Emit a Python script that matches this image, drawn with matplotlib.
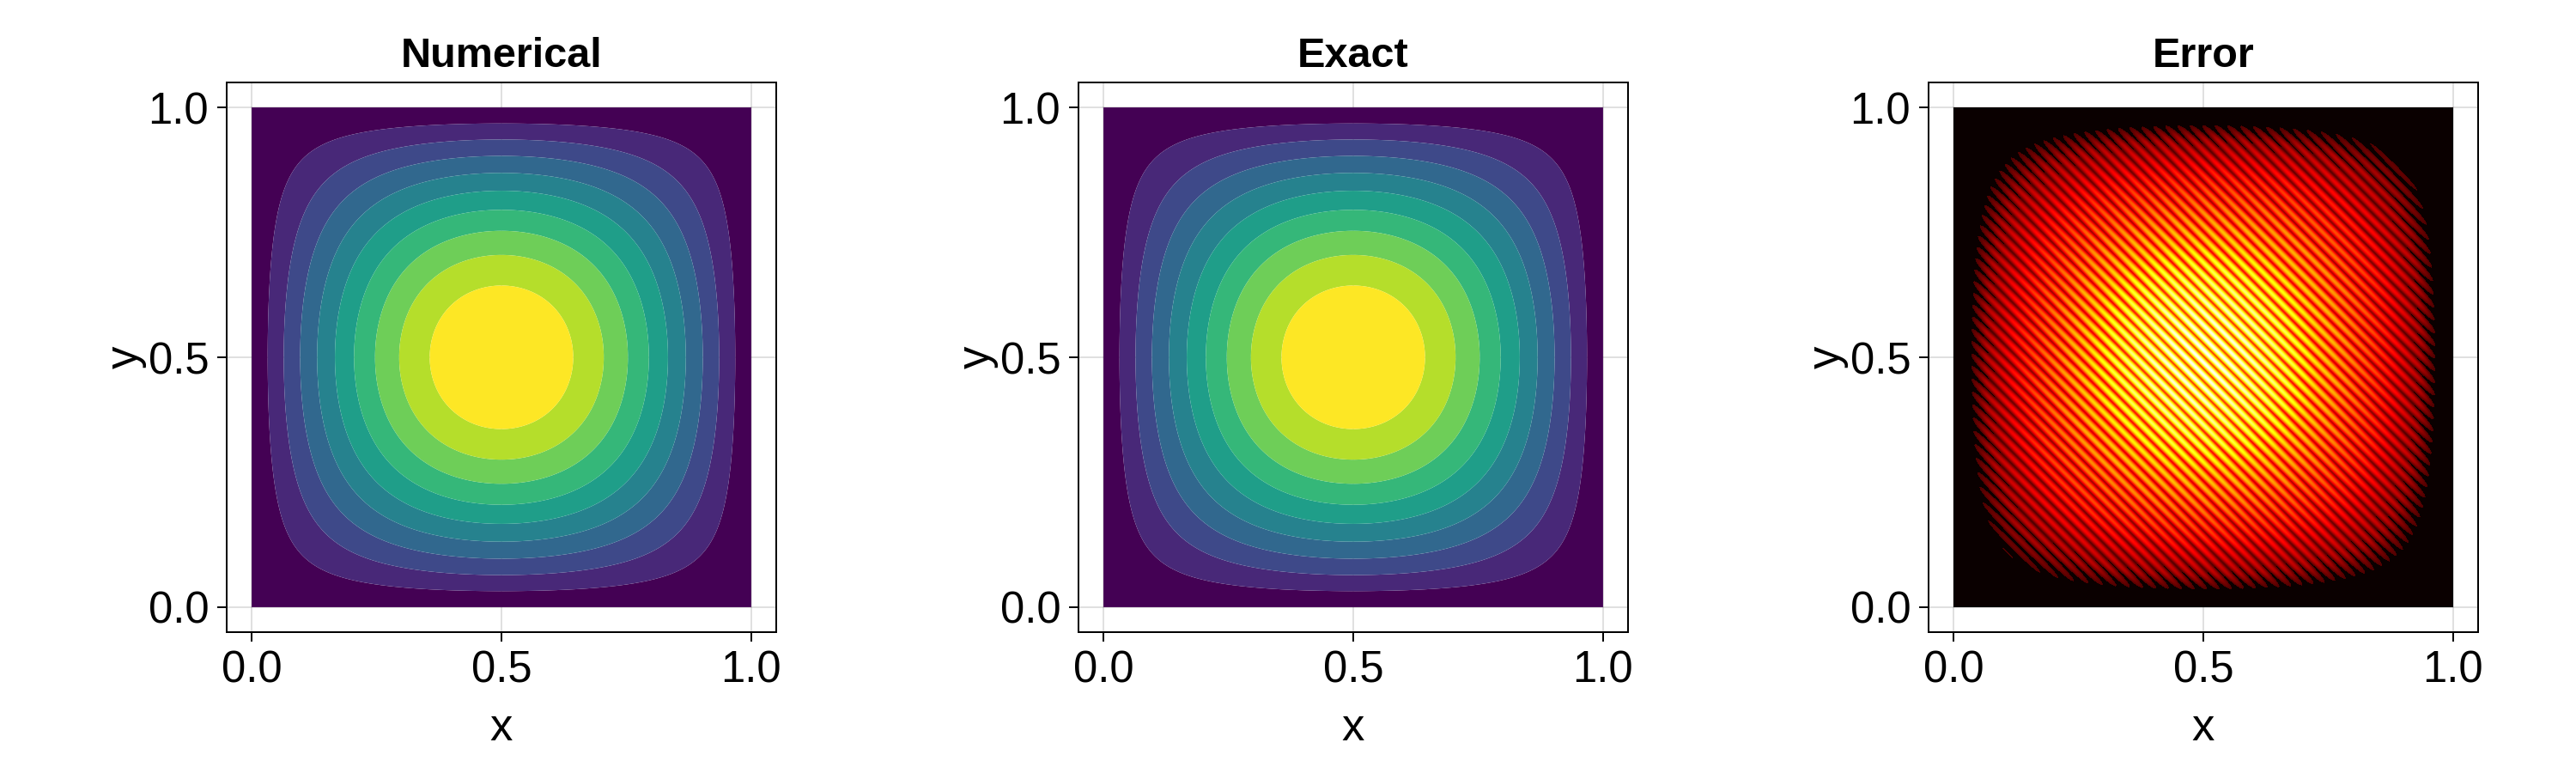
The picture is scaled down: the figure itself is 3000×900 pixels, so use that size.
import numpy as np
import matplotlib
matplotlib.use("Agg")
import matplotlib.pyplot as plt

# ====================================================
# Data
# ====================================================

titles = ["Numerical", "Exact", "Error"]
tick_values = [0.0, 0.5, 1.0]
tick_labels = ["0.0", "0.5", "1.0"]
contour_levels = [0.0, 0.1, 0.2, 0.3, 0.4, 0.5, 0.6, 0.7, 0.8, 0.9, 1.0]

# solution along the line y = 0.5, from x = 0 to x = 0.5 (the other half mirrors it)
profile_x = [0.0, 0.025, 0.05, 0.075, 0.1, 0.125, 0.15, 0.175, 0.2, 0.225, 0.25,
             0.275, 0.3, 0.325, 0.35, 0.375, 0.4, 0.425, 0.45, 0.475, 0.5]
profile_u = [0.0, 0.078, 0.156, 0.233, 0.309, 0.383, 0.454, 0.522, 0.588, 0.649, 0.707,
             0.760, 0.809, 0.853, 0.891, 0.924, 0.951, 0.972, 0.988, 0.997, 1.0]

# error stripes: spacing in x + y, where one bright stripe sits, and the
# position between valley (0) and peak (1) across one period
stripe_period = 0.025
stripe_offset = 0.99
stripe_shape = [1.0, 0.9, 0.65, 0.3, 0.0, 0.3, 0.65, 0.9]

# colour scale value of stripe peaks and valleys, against the solution value
envelope_u = [0.0, 0.1, 0.2, 0.33, 0.5, 0.75, 0.9, 1.0]
peak_value = [0.0, 0.085, 0.26, 0.36, 0.5, 0.7, 0.88, 1.0]
valley_value = [0.0, 0.04, 0.08, 0.13, 0.2, 0.32, 0.4, 0.45]
error_floor = 0.1

# axes boxes in pixels of the 3000x900 figure
axes_left = [264, 1256, 2246]
axes_top = 96
axes_size = 640


def smooth_field(n):
    """Product of the mirrored profile with itself on an n x n grid"""
    xs = np.array(profile_x + [1 - v for v in profile_x[-2::-1]])
    us = np.array(profile_u + profile_u[-2::-1])
    fit = np.polynomial.Polynomial.fit(xs, us, 12)
    grid = np.linspace(0, 1, n)
    line = np.clip(fit(grid), 0, 1)
    line[0] = line[-1] = 0
    return grid, np.outer(line, line)


def error_field(n):
    grid, u = smooth_field(n)
    xx, yy = np.meshgrid(grid, grid)
    phase = ((xx + yy - stripe_offset) / stripe_period) % 1
    samples = np.arange(len(stripe_shape)) / len(stripe_shape)
    shape = np.interp(phase, samples, stripe_shape, period=1)
    peak = np.interp(u, envelope_u, peak_value)
    valley = np.interp(u, envelope_u, valley_value)
    err = valley + (peak - valley) * shape
    err[err < error_floor] = 0
    return err


plt.rcParams["font.family"] = ["Liberation Sans", "DejaVu Sans"]

fig = plt.figure(figsize=(30, 9), dpi=100)
grid, u = smooth_field(400)

for i, title in enumerate(titles):
    ax = fig.add_axes([axes_left[i] / 3000, 1 - (axes_top + axes_size) / 900,
                       axes_size / 3000, axes_size / 900])
    if title == "Error":
        ax.imshow(error_field(582), cmap="hot", vmin=0, vmax=1, origin="lower",
                  extent=(0, 1, 0, 1), interpolation="nearest", aspect="auto", zorder=2)
    else:
        ax.contourf(grid, grid, u, levels=contour_levels, cmap="viridis",
                    vmin=0.05, vmax=0.95, antialiased=True, zorder=2)

    ax.set_xlim(-0.05, 1.05)
    ax.set_ylim(-0.05, 1.05)
    ax.set_xticks(tick_values, tick_labels)
    ax.set_yticks(tick_values, tick_labels)
    ax.grid(True, color="black", alpha=0.12, linewidth=1.44, zorder=1)
    ax.set_axisbelow(True)
    ax.tick_params(length=8, width=1.44, pad=7, labelsize=36.5)
    for spine in ax.spines.values():
        spine.set_linewidth(1.44)
        spine.set_zorder(5)
    ax.set_title(title, fontsize=35, fontweight="bold", pad=13)
    ax.set_xlabel("x", fontsize=38, labelpad=12)
    ax.set_ylabel("y", fontsize=38, labelpad=1)

fig.savefig("out.png", dpi=100)
